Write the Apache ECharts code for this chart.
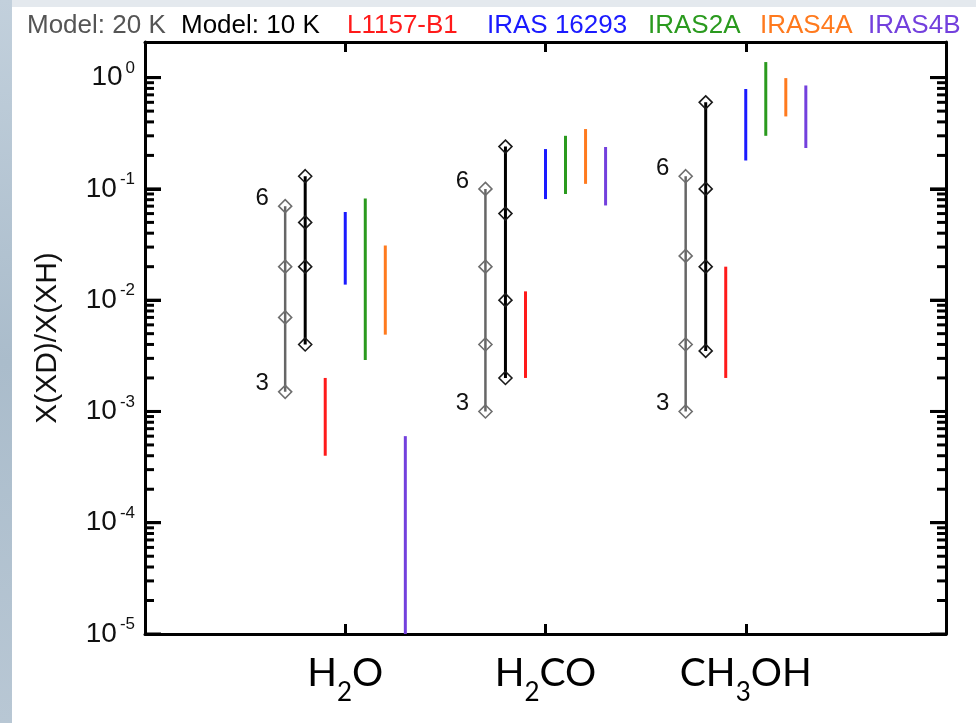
<!DOCTYPE html>
<html>
<head>
<meta charset="utf-8">
<script src="https://cdn.jsdelivr.net/npm/echarts@6/dist/echarts.min.js"></script>
<style>
html,body{margin:0;padding:0;background:#fff;}
#chart{width:976px;height:723px;}
</style>
</head>
<body>
<div id="chart"></div>
<script>
// ---------------- data ----------------
const categories = ['H2O', 'H2CO', 'CH3OH'];
const yTickExponents = ['-5', '-4', '-3', '-2', '-1', '0'];

// model curves: 4 values per molecule (low -> high)
const model20K = [[0.0015, 0.007, 0.02, 0.07], [0.001, 0.004, 0.02, 0.1], [0.001, 0.004, 0.025, 0.13]];
const model10K = [[0.004, 0.02, 0.05, 0.13], [0.002, 0.01, 0.06, 0.24], [0.0035, 0.02, 0.1, 0.6]];
const modelEndLabels = ['3', '6']; // label at lowest, highest point of the 20 K model

// observed ranges [low, high] per molecule
const rangeL1157 = [[0.0004, 0.002], [0.002, 0.012], [0.002, 0.02]];
const rangeIRAS16293 = [[0.0138, 0.062], [0.081, 0.228], [0.18, 0.79]];
const rangeIRAS2A = [[0.0029, 0.082], [0.09, 0.30], [0.30, 1.38]];
const rangeIRAS4A = [[0.0049, 0.031], [0.111, 0.345], [0.448, 0.99]];
const rangeIRAS4B = [[0.000001, 0.0006], [0.071, 0.238], [0.233, 0.85]];

// ---------------- styling ----------------
const FONT = 'Liberation Sans, Arial, Helvetica, sans-serif';
const seriesStyle = {
  'Model: 20 K': {color: '#666666', text: '#555555', offset: -0.3, legendLeft: 22},
  'Model: 10 K': {color: '#000000', text: '#000000', offset: -0.2, legendLeft: 176},
  'L1157-B1': {color: '#ff1a1a', text: '#ff1a1a', offset: -0.1, legendLeft: 342},
  'IRAS 16293': {color: '#1a1aff', text: '#1a1aff', offset: 0, legendLeft: 482},
  'IRAS2A': {color: '#2a9a1e', text: '#2a9a1e', offset: 0.1, legendLeft: 643},
  'IRAS4A': {color: '#ff7a1e', text: '#ff7a1e', offset: 0.2, legendLeft: 755},
  'IRAS4B': {color: '#7340dd', text: '#7340dd', offset: 0.3, legendLeft: 863}
};
const legendOrder = ['Model: 20 K', 'Model: 10 K', 'L1157-B1', 'IRAS 16293', 'IRAS2A', 'IRAS4A', 'IRAS4B'];

const Y_MIN = 1e-5, Y_MAX = 2.09;

// ---------------- series ----------------
const series = [];

function addModel(name, values, withLabels, symbolBorder, lineWidth) {
  const st = seriesStyle[name];
  values.forEach((vals, i) => {
    const x = i + 1 + st.offset;
    const data = vals.map((v, k) => {
      const item = {value: [x, v]};
      if (withLabels && (k === 0 || k === vals.length - 1)) {
        item.label = {
          show: true,
          position: 'left',
          distance: 9,
          offset: [0, -8],
          formatter: k === 0 ? modelEndLabels[0] : modelEndLabels[1],
          fontSize: 24,
          fontFamily: FONT,
          color: '#111'
        };
      }
      return item;
    });
    series.push({
      name: name,
      type: 'line',
      data: data,
      symbol: 'diamond',
      symbolSize: 13,
      showAllSymbol: true,
      lineStyle: {color: st.color, width: lineWidth},
      itemStyle: {color: 'rgba(255,255,255,0)', borderColor: symbolBorder, borderWidth: 1.6},
      z: 5,
      silent: true
    });
  });
}
addModel('Model: 20 K', model20K, true, '#6e6e6e', 2.5);
addModel('Model: 10 K', model10K, false, '#1a1a1a', 3);

function addRange(name, ranges) {
  const st = seriesStyle[name];
  series.push({
    name: name,
    type: 'custom',
    data: ranges.map((r, i) => [i + 1 + st.offset, r[0], r[1]]),
    encode: {x: 0, y: [1, 2]},
    renderItem: function (params, api) {
      const x = api.value(0);
      const p1 = api.coord([x, api.value(1)]);
      const p2 = api.coord([x, api.value(2)]);
      const cs = params.coordSys;
      const pts = echarts.graphic.clipPointsByRect([p1, p2], cs);
      return {
        type: 'line',
        shape: {x1: pts[0][0], y1: pts[0][1], x2: pts[1][0], y2: pts[1][1]},
        style: {stroke: st.color, lineWidth: 3, lineCap: 'butt'}
      };
    },
    z: 4,
    silent: true
  });
}
addRange('L1157-B1', rangeL1157);
addRange('IRAS 16293', rangeIRAS16293);
addRange('IRAS2A', rangeIRAS2A);
addRange('IRAS4A', rangeIRAS4A);
addRange('IRAS4B', rangeIRAS4B);

// log ticks: majors (10^n) and minors (2..9 x 10^n), drawn on both frame sides
const frameTicks = [];
yTickExponents.forEach(e => {
  for (let k = 1; k <= 9; k++) {
    const v = k * Math.pow(10, Number(e));
    if (v <= 1) frameTicks.push([1, v, k === 1 ? 1 : 0]);
  }
});
series.push({
  type: 'custom',
  name: 'frameTicks',
  data: frameTicks,
  encode: {x: 0, y: 1},
  renderItem: function (params, api) {
    const y = api.coord([1, api.value(1)])[1];
    const cs = params.coordSys;
    const major = api.value(2) === 1;
    const len = major ? 16 : 9;
    return {
      type: 'group',
      children: [
        {type: 'line', shape: {x1: cs.x, y1: y, x2: cs.x + len, y2: y}, style: {stroke: '#000', lineWidth: 3}},
        {type: 'line', shape: {x1: cs.x + cs.width - len, y1: y, x2: cs.x + cs.width, y2: y}, style: {stroke: '#000', lineWidth: 3}}
      ]
    };
  },
  clip: false,
  silent: true,
  zlevel: 1,
  z: 20
});

// ---------------- axes ----------------
function yLabel(v) {
  const e = String(Math.round(Math.log10(v)));
  if (yTickExponents.indexOf(e) < 0) return '';
  return '{b|10}{s|' + e + '}';
}
function xLabel(v) {
  const idx = Math.round(v) - 1;
  if (Math.abs(v - Math.round(v)) > 1e-6 || idx < 0 || idx >= categories.length) return '';
  return categories[idx].split(/(\d)/).filter(Boolean)
    .map(p => /\d/.test(p) ? '{s|' + p + '}' : '{n|' + p + '}').join('');
}

const yBase = {
  type: 'log',
  logBase: 10,
  min: Y_MIN,
  max: Y_MAX,
  axisLine: {show: true, onZero: false, lineStyle: {color: '#000', width: 3}},
  axisTick: {show: true, inside: true, length: 16, lineStyle: {color: '#000', width: 3}},
  splitLine: {show: false},
  minorTick: {show: false}
};
const xBase = {
  type: 'value',
  min: 0,
  max: 4,
  interval: 1,
  axisLine: {show: true, onZero: false, lineStyle: {color: '#000', width: 3}},
  axisTick: {show: true, inside: true, length: 10, lineStyle: {color: '#000', width: 3}},
  splitLine: {show: false}
};

const option = {
  animation: false,
  backgroundColor: '#ffffff',
  graphic: [
    {type: 'rect', left: 0, top: 0, shape: {width: 976, height: 7}, style: {fill: '#e4e9ee'}, silent: true, z: -10},
    {type: 'rect', left: 0, top: 0, shape: {width: 12, height: 723},
      style: {fill: new echarts.graphic.LinearGradient(0, 0, 0, 1, [
        {offset: 0, color: '#c2d0dc'}, {offset: 0.5, color: '#aabccb'}, {offset: 1, color: '#b8c7d4'}
      ])}, silent: true, z: -10}
  ],
  legend: legendOrder.map(n => ({
    data: [{name: n, textStyle: {color: seriesStyle[n].text}}],
    left: seriesStyle[n].legendLeft,
    top: 12,
    padding: 0,
    icon: 'none',
    itemWidth: 0,
    itemHeight: 28,
    selectedMode: false,
    textStyle: {fontSize: 26, fontFamily: FONT}
  })),
  grid: {left: 145, right: 30, top: 42, bottom: 89, containLabel: false},
  xAxis: [
    Object.assign({}, xBase, {
      position: 'bottom',
      axisLabel: {
        margin: 20,
        formatter: xLabel,
        rich: {
          n: {fontSize: 39, fontFamily: 'Lato, Carlito, Open Sans, sans-serif', color: '#000', lineHeight: 44, verticalAlign: 'top'},
          s: {fontSize: 26, fontFamily: 'Lato, Carlito, Open Sans, sans-serif', color: '#000', lineHeight: 28, verticalAlign: 'top', padding: [26, 0, 0, 0]}
        }
      }
    }),
    Object.assign({}, xBase, {position: 'top', axisLabel: {show: false}})
  ],
  yAxis: [
    Object.assign({}, yBase, {
      position: 'left',
      name: 'X(XD)/X(XH)',
      nameLocation: 'middle',
      nameGap: 82,
      nameTextStyle: {fontSize: 30, fontFamily: FONT, color: '#111'},
      axisLabel: {
        margin: 10,
        showMaxLabel: false,
        formatter: yLabel,
        rich: {
          b: {fontSize: 28, fontFamily: FONT, color: '#111', lineHeight: 36, verticalAlign: 'middle'},
          s: {fontSize: 17, fontFamily: FONT, color: '#111', lineHeight: 17, verticalAlign: 'top', padding: [0, 0, 0, 3]}
        }
      }
    }),
    Object.assign({}, yBase, {position: 'right', axisLabel: {show: false}})
  ],
  series: series
};

const chart = echarts.init(document.getElementById('chart'), null, {renderer: 'canvas'});
chart.setOption(option);
</script>
</body>
</html>
